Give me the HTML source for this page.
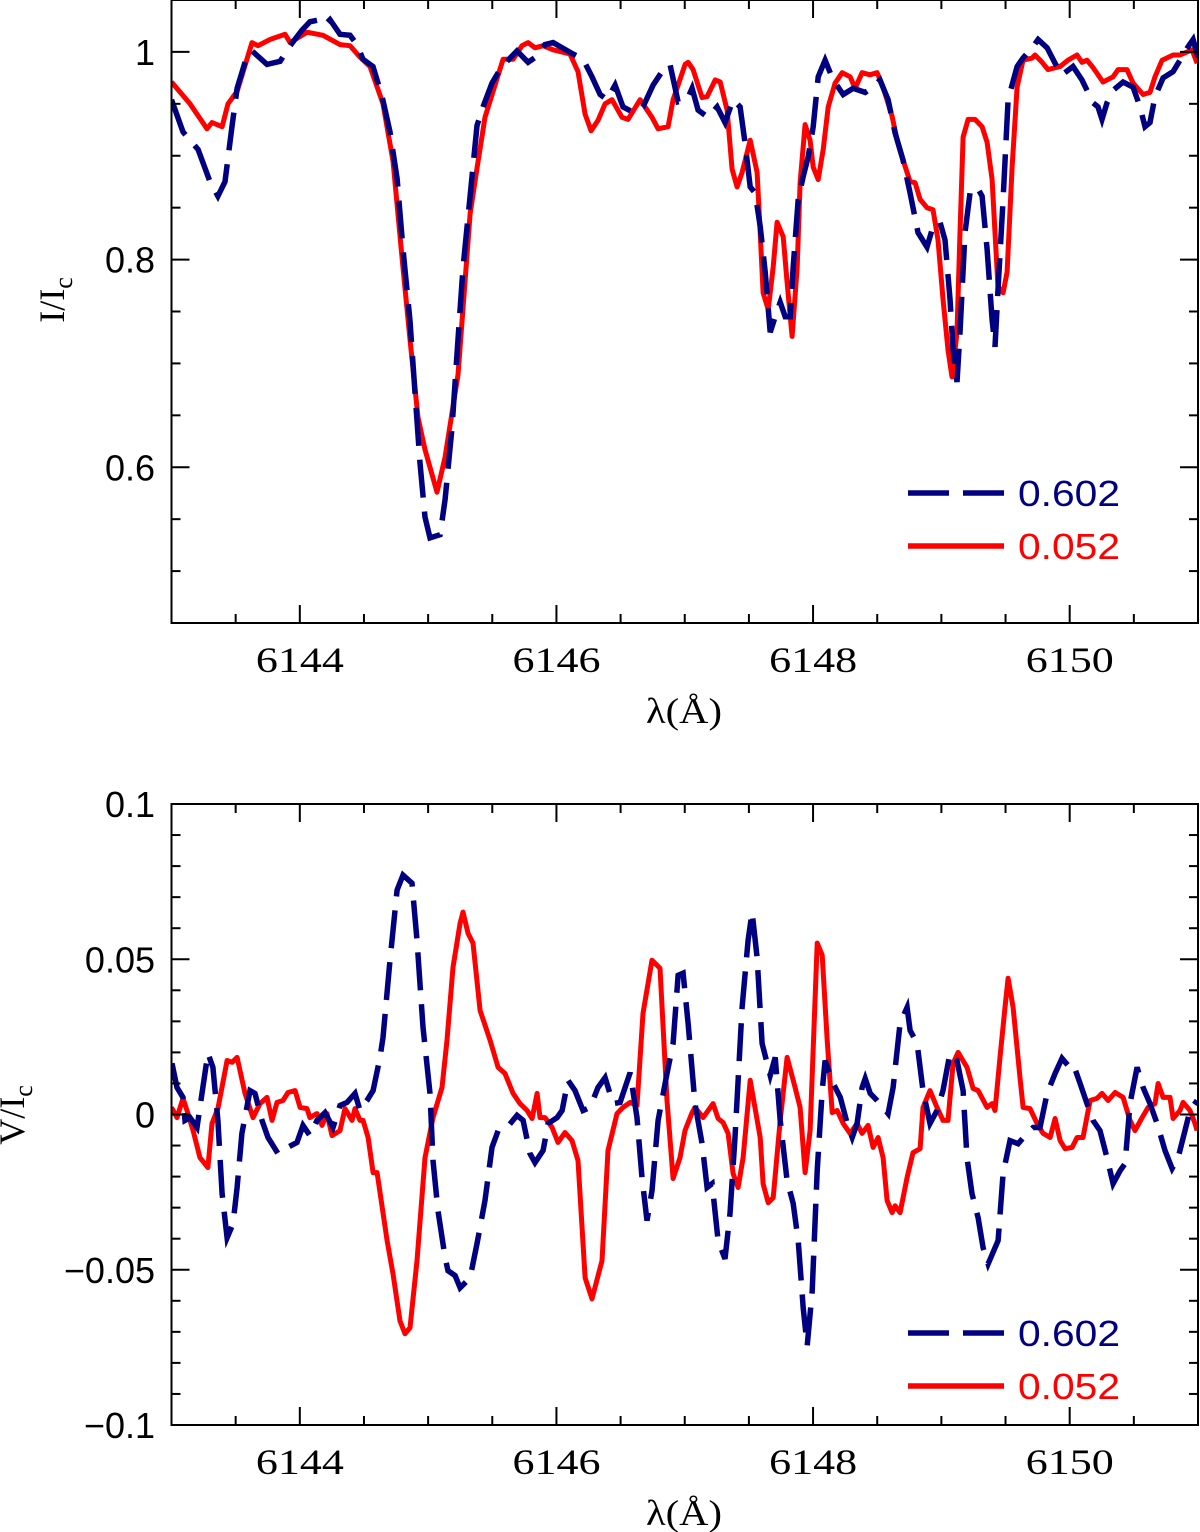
<!DOCTYPE html>
<html><head><meta charset="utf-8"><title>Stokes I and V profiles</title>
<style>
html,body{margin:0;padding:0;background:#fff;}
svg{display:block;}
text{font-family:"Liberation Sans",sans-serif;}
.tl{font-size:36px;fill:#000;}
.ti{font-family:"Liberation Serif",serif;font-size:36px;fill:#000;}
</style></head>
<body>
<svg id="chart" width="1200" height="1532" viewBox="0 0 1200 1532" xmlns="http://www.w3.org/2000/svg">
<g id="top"></g>
<g id="bot"></g>
</svg>
<script>
// ---- data (wavelength offsets from 6143 Å and values) ----
const topRedX=[0,0.144,0.277,0.316,0.394,0.440,0.511,0.627,0.674,0.768,0.885,0.924,1.056,1.181,1.313,1.391,1.469,1.547,1.648,1.726,1.804,1.859,1.921,1.976,2.069,2.132,2.233,2.327,2.381,2.443,2.521,2.584,2.662,2.732,2.779,2.833,2.896,2.974,3.106,3.168,3.223,3.270,3.324,3.379,3.433,3.511,3.558,3.652,3.745,3.792,3.870,3.909,4.003,4.026,4.065,4.135,4.174,4.237,4.276,4.330,4.369,4.408,4.447,4.510,4.564,4.588,4.611,4.650,4.689,4.720,4.767,4.798,4.837,4.876,4.899,4.938,4.977,5.001,5.040,5.079,5.118,5.172,5.227,5.289,5.328,5.382,5.444,5.499,5.546,5.616,5.655,5.701,5.756,5.795,5.834,5.888,5.935,5.974,6.013,6.052,6.083,6.122,6.145,6.169,6.208,6.262,6.317,6.356,6.395,6.418,6.441,6.481,6.512,6.551,6.590,6.636,6.707,6.730,6.785,6.831,6.925,6.987,7.057,7.096,7.135,7.182,7.260,7.338,7.377,7.447,7.494,7.572,7.626,7.665,7.720,7.806,7.860,7.954,7.993];
const topRedY=[0.971,0.950,0.926,0.932,0.928,0.950,0.962,1.009,1.006,1.012,1.017,1.009,1.019,1.016,1.007,1.006,0.995,0.986,0.950,0.895,0.792,0.723,0.648,0.617,0.576,0.610,0.689,0.844,0.888,0.937,0.968,0.993,0.993,1.006,1.009,1.004,1.006,1.002,0.998,0.981,0.940,0.924,0.934,0.950,0.954,0.937,0.935,0.954,0.937,0.926,0.928,0.954,0.988,0.990,0.983,0.956,0.957,0.973,0.971,0.944,0.887,0.870,0.884,0.915,0.884,0.826,0.768,0.752,0.793,0.836,0.822,0.778,0.726,0.793,0.874,0.930,0.915,0.889,0.877,0.906,0.947,0.970,0.980,0.976,0.965,0.980,0.978,0.980,0.966,0.938,0.915,0.896,0.875,0.874,0.858,0.850,0.848,0.819,0.762,0.713,0.687,0.730,0.826,0.918,0.935,0.935,0.928,0.913,0.877,0.826,0.774,0.768,0.788,0.889,0.966,0.992,0.994,0.997,0.990,0.983,0.986,0.992,0.997,0.990,0.992,0.985,0.971,0.976,0.983,0.983,0.970,0.959,0.961,0.976,0.992,0.997,0.997,1.002,0.989];
const topBlueX=[0,0.090,0.207,0.300,0.362,0.417,0.472,0.511,0.588,0.627,0.744,0.846,0.924,1.017,1.079,1.157,1.196,1.235,1.313,1.391,1.446,1.492,1.570,1.641,1.703,1.758,1.804,1.859,1.898,1.937,1.976,2.015,2.093,2.132,2.186,2.233,2.272,2.327,2.381,2.428,2.498,2.560,2.615,2.693,2.779,2.849,2.911,2.974,3.044,3.129,3.207,3.277,3.340,3.394,3.457,3.519,3.597,3.675,3.753,3.823,3.885,3.948,4.018,4.057,4.104,4.182,4.252,4.314,4.377,4.431,4.470,4.510,4.549,4.588,4.627,4.666,4.705,4.744,4.783,4.822,4.845,4.884,4.923,4.962,5.001,5.040,5.094,5.157,5.235,5.313,5.406,5.468,5.522,5.585,5.639,5.701,5.756,5.818,5.888,5.935,5.989,6.028,6.067,6.091,6.122,6.145,6.184,6.223,6.278,6.317,6.356,6.395,6.418,6.441,6.481,6.520,6.590,6.636,6.707,6.754,6.824,6.886,6.940,7.026,7.096,7.135,7.182,7.221,7.252,7.291,7.338,7.416,7.494,7.548,7.587,7.626,7.665,7.728,7.806,7.860,7.923,7.962,8.000];
const topBlueY=[0.954,0.923,0.906,0.875,0.861,0.875,0.929,0.965,0.996,1.001,0.988,0.991,1.006,1.021,1.029,1.031,1.026,1.031,1.017,1.016,1.007,0.993,0.986,0.957,0.923,0.878,0.810,0.741,0.672,0.604,0.552,0.532,0.535,0.569,0.638,0.723,0.792,0.861,0.929,0.947,0.970,0.983,0.991,1.001,0.990,0.996,1.007,1.009,1.004,0.998,0.993,0.976,0.959,0.954,0.968,0.947,0.942,0.947,0.968,0.981,0.988,0.952,0.954,0.965,0.944,0.937,0.947,0.932,0.954,0.947,0.912,0.870,0.864,0.832,0.788,0.730,0.745,0.759,0.745,0.745,0.793,0.858,0.880,0.899,0.928,0.976,0.992,0.973,0.959,0.965,0.961,0.966,0.973,0.954,0.922,0.896,0.864,0.826,0.812,0.832,0.836,0.819,0.762,0.713,0.682,0.730,0.826,0.864,0.870,0.861,0.810,0.742,0.716,0.771,0.858,0.954,0.986,0.994,1.004,1.012,1.004,0.989,0.978,0.986,0.973,0.963,0.951,0.947,0.935,0.951,0.963,0.971,0.966,0.947,0.928,0.932,0.957,0.975,0.981,0.992,1.005,1.012,0.995];
const botRedX=[0,0.043,0.090,0.121,0.168,0.222,0.284,0.316,0.362,0.433,0.472,0.511,0.573,0.635,0.690,0.744,0.783,0.822,0.869,0.908,0.963,1.002,1.056,1.079,1.134,1.173,1.212,1.251,1.313,1.352,1.407,1.430,1.469,1.493,1.532,1.571,1.602,1.680,1.726,1.781,1.820,1.859,1.913,1.976,2.038,2.108,2.147,2.194,2.249,2.272,2.311,2.350,2.405,2.483,2.545,2.599,2.662,2.716,2.771,2.810,2.849,2.872,2.911,2.966,3.012,3.067,3.121,3.168,3.223,3.277,3.355,3.402,3.472,3.519,3.574,3.628,3.675,3.745,3.807,3.862,3.909,3.963,4.002,4.057,4.080,4.143,4.221,4.260,4.299,4.338,4.377,4.416,4.455,4.510,4.588,4.611,4.650,4.689,4.744,4.798,4.860,4.899,4.938,4.977,5.032,5.071,5.110,5.149,5.188,5.235,5.289,5.343,5.382,5.429,5.468,5.507,5.546,5.577,5.616,5.639,5.678,5.733,5.779,5.834,5.857,5.911,5.966,6.013,6.052,6.091,6.130,6.200,6.247,6.286,6.356,6.395,6.418,6.457,6.496,6.520,6.559,6.613,6.637,6.691,6.746,6.793,6.847,6.886,6.925,6.964,7.019,7.058,7.104,7.159,7.213,7.252,7.299,7.354,7.416,7.470,7.509,7.564,7.611,7.665,7.689,7.728,7.782,7.806,7.860,7.884,7.938,7.977,7.993];
const botRedY=[0.0023,-0.0010,0.0052,0.0013,-0.0052,-0.0139,-0.0171,-0.0029,0.0019,0.0174,0.0168,0.0184,0.0068,-0.0010,0.0035,0.0055,-0.0019,0.0039,0.0045,0.0071,0.0077,0.0023,0.0019,-0.0010,0.0003,-0.0035,0.0003,-0.0068,-0.0052,0.0019,-0.0019,0.0019,-0.0019,-0.0019,-0.0074,-0.0187,-0.0187,-0.0406,-0.0513,-0.0665,-0.0706,-0.0687,-0.0471,-0.0139,-0.0010,0.0087,0.0239,0.0474,0.0616,0.0652,0.0584,0.0552,0.0335,0.0239,0.0152,0.0132,0.0068,0.0035,0.0013,-0.0013,0.0068,-0.0010,-0.0010,-0.0042,-0.0090,-0.0058,-0.0084,-0.0148,-0.0526,-0.0594,-0.0471,-0.0116,0.0003,0.0023,0.0039,0.0029,0.0326,0.0497,0.0471,0.0045,-0.0206,-0.0139,-0.0052,0.0006,0.0023,-0.0010,0.0035,-0.0013,-0.0026,-0.0061,-0.0190,-0.0235,-0.0139,0.0110,-0.0074,-0.0223,-0.0284,-0.0268,-0.0019,0.0184,0.0087,0.0023,-0.0187,-0.0052,0.0552,0.0513,0.0239,0.0006,0.0013,-0.0029,-0.0061,-0.0029,-0.0061,-0.0035,-0.0106,-0.0074,-0.0139,-0.0277,-0.0316,-0.0294,-0.0316,-0.0203,-0.0123,-0.0110,0.0023,0.0077,0.0023,-0.0019,-0.0019,0.0165,0.0200,0.0152,0.0084,0.0077,0.0023,0.0035,0.0013,0.0184,0.0345,0.0439,0.0345,0.0119,0.0023,0.0019,-0.0029,-0.0061,-0.0074,-0.0013,-0.0084,-0.0110,-0.0106,-0.0074,-0.0074,0.0045,0.0052,0.0068,0.0045,0.0071,0.0055,-0.0019,-0.0052,-0.0010,0.0023,0.0035,0.0100,0.0055,0.0055,-0.0013,0.0013,0.0039,0.0013,-0.0029,-0.0052];
const botBlueX=[0.004,0.043,0.090,0.105,0.144,0.199,0.238,0.284,0.323,0.362,0.394,0.433,0.479,0.511,0.549,0.612,0.651,0.705,0.752,0.830,0.885,0.978,1.025,1.079,1.134,1.196,1.259,1.313,1.368,1.430,1.469,1.524,1.571,1.625,1.648,1.703,1.758,1.804,1.874,1.913,1.960,2.015,2.038,2.077,2.132,2.155,2.210,2.249,2.327,2.381,2.443,2.498,2.545,2.615,2.693,2.740,2.794,2.833,2.896,2.935,3.005,3.044,3.090,3.145,3.207,3.262,3.324,3.379,3.441,3.496,3.535,3.574,3.628,3.667,3.706,3.745,3.792,3.862,3.909,3.948,3.987,4.026,4.080,4.135,4.174,4.213,4.260,4.314,4.353,4.392,4.447,4.494,4.525,4.564,4.603,4.666,4.705,4.744,4.798,4.845,4.884,4.923,4.954,4.993,5.032,5.071,5.094,5.157,5.212,5.266,5.305,5.343,5.382,5.406,5.445,5.499,5.546,5.585,5.624,5.678,5.733,5.756,5.811,5.857,5.911,5.966,6.013,6.067,6.122,6.169,6.200,6.239,6.286,6.325,6.364,6.442,6.481,6.535,6.598,6.668,6.715,6.769,6.824,6.886,6.940,6.987,7.026,7.081,7.135,7.182,7.236,7.291,7.338,7.393,7.432,7.470,7.525,7.572,7.626,7.681,7.743,7.798,7.845,7.899,7.938,7.993];
const botBlueY=[0.0165,0.0087,0.0055,-0.0019,-0.0010,-0.0042,0.0068,0.0197,0.0152,-0.0019,-0.0255,-0.0397,-0.0352,-0.0235,-0.0061,0.0077,0.0068,-0.0019,-0.0074,-0.0126,-0.0110,-0.0090,-0.0035,-0.0068,-0.0019,0.0006,-0.0042,0.0029,0.0039,0.0068,0.0013,0.0045,0.0077,0.0184,0.0248,0.0497,0.0723,0.0771,0.0745,0.0561,0.0281,0.0068,-0.0148,-0.0310,-0.0461,-0.0503,-0.0519,-0.0558,-0.0526,-0.0416,-0.0277,-0.0106,-0.0052,-0.0042,-0.0003,-0.0019,-0.0126,-0.0155,-0.0116,-0.0029,-0.0010,0.0013,0.0110,0.0077,0.0013,0.0023,0.0087,0.0119,0.0035,0.0039,0.0087,0.0135,-0.0010,-0.0203,-0.0342,-0.0245,-0.0019,0.0132,0.0229,0.0448,0.0455,0.0294,0.0035,-0.0094,-0.0235,-0.0223,-0.0406,-0.0465,-0.0319,-0.0074,0.0345,0.0561,0.0652,0.0506,0.0229,0.0126,0.0184,-0.0019,-0.0213,-0.0287,-0.0406,-0.0623,-0.0745,-0.0568,-0.0181,0.0077,0.0174,0.0100,0.0055,-0.0029,-0.0074,-0.0029,0.0087,0.0116,0.0068,0.0045,0.0023,0.0003,0.0087,0.0294,0.0345,0.0271,0.0229,0.0077,-0.0029,0.0013,0.0077,0.0197,0.0174,0.0077,-0.0139,-0.0255,-0.0332,-0.0429,-0.0481,-0.0406,-0.0190,-0.0084,-0.0094,-0.0061,-0.0042,-0.0042,0.0068,0.0132,0.0181,0.0158,0.0165,0.0100,0.0035,-0.0019,-0.0052,-0.0139,-0.0223,-0.0181,-0.0158,0.0035,0.0152,0.0087,0.0035,-0.0029,-0.0116,-0.0174,-0.0139,-0.0052,0.0013,0.0045];
const xTickLabels=["6144","6146","6148","6150"];
const topYTicks=[1,0.8,0.6];
const topYTickLabels=["1","0.8","0.6"];
const botYTicks=[0.1,0.05,0,-0.05,-0.1];
const botYTickLabels=["0.1","0.05","0","\u22120.05","\u22120.1"];
const seriesNames=["0.602","0.052"];

const NS="http://www.w3.org/2000/svg";
const X0=171.5,X1=1198,L0=6143,L1=6151;
function xs(lam){return X0+(lam-L0)/(L1-L0)*(X1-X0);}
function mk(tag,attrs,parent){const e=document.createElementNS(NS,tag);for(const k in attrs)e.setAttribute(k,attrs[k]);parent.appendChild(e);return e;}

function panel(g,top,bot,vmin,vmax,minorStep,yTicks,yLabels,rX,rY,bX,bY,legY,ytitle,ytX,ytY){
  const ys=v=>bot-(v-vmin)/(vmax-vmin)*(bot-top);
  const clip='clip'+top;
  const defs=mk('defs',{},g);
  const cp=mk('clipPath',{id:clip},defs);
  mk('rect',{x:X0,y:top,width:X1-X0,height:bot-top},cp);
  const pb=bX.map((x,i)=>(i?'L':'M')+xs(L0+x).toFixed(1)+','+ys(bY[i]).toFixed(1)).join('');
  const pr=rX.map((x,i)=>(i?'L':'M')+xs(L0+x).toFixed(1)+','+ys(rY[i]).toFixed(1)).join('');
  const lr=mk('path',{d:pr,fill:'none',stroke:'#ff0000','stroke-width':5,'stroke-linejoin':'round','clip-path':'url(#'+clip+')'},g);
  
  
  const lb=mk('path',{d:pb,fill:'none',stroke:'#000080','stroke-width':5.5,'stroke-dasharray':'38 14','clip-path':'url(#'+clip+')'},g);
  
  
  const fr=mk('rect',{x:X0,y:top,width:X1-X0,height:bot-top,fill:'none',stroke:'#000','stroke-width':2},g);
  
  
  for(let l=L0+0.5;l<L1;l+=0.5){
    const major=Math.abs(l-Math.round(l/2)*2)<1e-6;
    const len=major?18:9,x=xs(l);
    mk('line',{x1:x,y1:bot,x2:x,y2:bot-len,stroke:'#000','stroke-width':2},g);
    mk('line',{x1:x,y1:top,x2:x,y2:top+len,stroke:'#000','stroke-width':2},g);
  }
  xTickLabels.forEach(t=>{
    const e=mk('text',{x:xs(+t),y:bot+49,'text-anchor':'middle',class:'ti',textLength:88,lengthAdjust:'spacingAndGlyphs'},g);
    e.textContent=t;
    
    
  });
  const n=Math.round((vmax-vmin)/minorStep);
  for(let i=0;i<=n;i++){
    const v=vmin+i*minorStep;
    const major=yTicks.some(t=>Math.abs(t-v)<1e-6);
    const len=major?18:9,y=ys(v);
    mk('line',{x1:X0,y1:y,x2:X0+len,y2:y,stroke:'#000','stroke-width':2},g);
    mk('line',{x1:X1,y1:y,x2:X1-len,y2:y,stroke:'#000','stroke-width':2},g);
  }
  yTicks.forEach((t,i)=>{
    const e=mk('text',{x:155,y:ys(t)+13,'text-anchor':'end',class:'tl'},g);
    e.textContent=yLabels[i];
    
    
  });
  const xt=mk('text',{x:684,y:bot+100,'text-anchor':'middle',class:'ti',textLength:76,lengthAdjust:'spacingAndGlyphs'},g);
  xt.textContent='λ(Å)';
  
  
  const yt=mk('text',{x:0,y:0,'text-anchor':'middle',class:'ti',transform:'translate('+ytX+','+ytY+') rotate(-90)'},g);
  yt.innerHTML=ytitle+'/I<tspan font-size="26" dy="8">c</tspan>';
  
  
  const cols=['#000080','#ff0000'];
  seriesNames.forEach((s,i)=>{
    const y=legY+i*53;
    const lg=mk('g',{},g);
    
    
    const ln=mk('line',{x1:908,y1:y,x2:1004,y2:y,stroke:cols[i],'stroke-width':5.5},lg);
    if(i===0)ln.setAttribute('stroke-dasharray','41 14');
    const tx=mk('text',{x:1018,y:y+13,fill:cols[i],'font-size':36,textLength:102,lengthAdjust:'spacingAndGlyphs'},lg);
    tx.textContent=s;
  });
}
panel(document.getElementById('top'),0,623,0.45,1.05,0.05,topYTicks,topYTickLabels,topRedX,topRedY,topBlueX,topBlueY,493,'I',64,300);
panel(document.getElementById('bot'),804,1425,-0.1,0.1,0.01,botYTicks,botYTickLabels,botRedX,botRedY,botBlueX,botBlueY,1333,'V',24,1115);
</script>
</body></html>
